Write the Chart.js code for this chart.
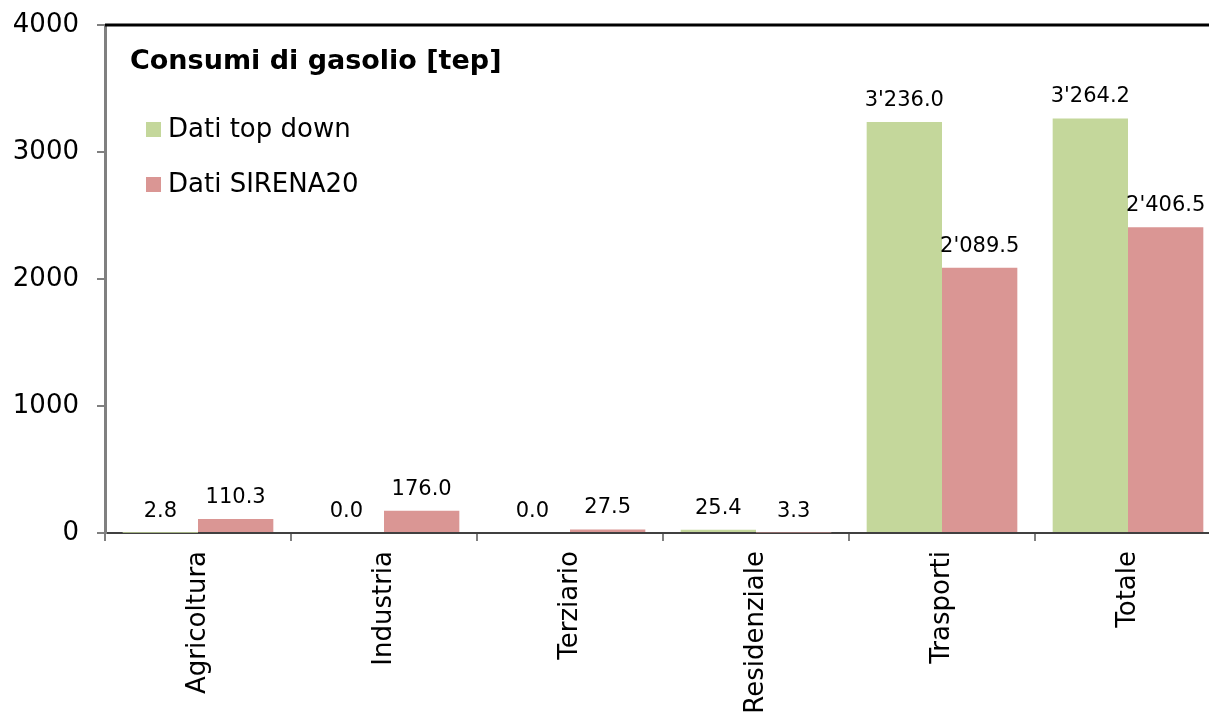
<!DOCTYPE html>
<html>
<head>
<meta charset="utf-8">
<script src="https://cdn.jsdelivr.net/npm/chart.js@4/dist/chart.umd.min.js"></script>
<style>
  html, body { margin: 0; background: #fff; overflow: hidden; }
  #wrap { width: 1221px; height: 713px; }
</style>
</head>
<body>
<div id="wrap"><canvas id="chart_gasolio"></canvas></div>
<script>
const categories = ['Agricoltura', 'Industria', 'Terziario', 'Residenziale', 'Trasporti', 'Totale'];
const topDown = [2.8, 0.0, 0.0, 25.4, 3236.0, 3264.2];
const sirena = [110.3, 176.0, 27.5, 3.3, 2089.5, 2406.5];
const yTicks = [0, 1000, 2000, 3000, 4000];
const chartTitle = 'Consumi di gasolio [tep]';

const FONT = '"DejaVu Sans", Verdana, sans-serif';

function fmt(v) {
  const parts = v.toFixed(1).split('.');
  parts[0] = parts[0].replace(/\B(?=(\d{3})+(?!\d))/g, "'");
  return parts.join('.');
}

// value labels, title, legend and top frame line
const decorations = {
  id: 'decorations',
  afterDatasetsDraw(chart) {
    const ctx = chart.ctx;
    ctx.save();
    ctx.fillStyle = '#000';
    ctx.font = '21px ' + FONT;
    ctx.textAlign = 'center';
    ctx.textBaseline = 'bottom';
    chart.data.datasets.forEach((ds, i) => {
      chart.getDatasetMeta(i).data.forEach((bar, j) => {
        ctx.fillText(fmt(ds.data[j]), bar.x, bar.y - 11);
      });
    });
    ctx.restore();
  },
  afterDraw(chart) {
    const ctx = chart.ctx;
    const area = chart.chartArea;
    ctx.save();
    ctx.strokeStyle = '#000';
    ctx.lineWidth = 3;
    ctx.beginPath();
    ctx.moveTo(area.left, area.top);
    ctx.lineTo(area.right, area.top);
    ctx.stroke();

    ctx.fillStyle = '#000';
    ctx.textAlign = 'left';
    ctx.textBaseline = 'middle';
    ctx.font = 'bold 27px ' + FONT;
    ctx.fillText(chartTitle, area.left + 25, 62);

    ctx.font = '26px ' + FONT;
    chart.data.datasets.forEach((ds, i) => {
      const y = 130 + i * 55;
      ctx.fillStyle = ds.backgroundColor;
      ctx.fillRect(area.left + 41, y - 8, 15, 15);
      ctx.fillStyle = '#000';
      ctx.fillText(ds.label, area.left + 63, y);
    });
    ctx.restore();
  }
};

new Chart(document.getElementById('chart_gasolio'), {
  type: 'bar',
  data: {
    labels: categories,
    datasets: [
      { label: 'Dati top down', data: topDown, backgroundColor: '#C4D79B' },
      { label: 'Dati SIRENA20', data: sirena, backgroundColor: '#DA9694' }
    ]
  },
  options: {
    responsive: true,
    maintainAspectRatio: false,
    animation: false,
    layout: { padding: { top: 25, right: 0, left: 0, bottom: 0 } },
    datasets: {
      bar: { categoryPercentage: 0.81, barPercentage: 1.0 }
    },
    scales: {
      x: {
        grid: {
          display: true,
          drawOnChartArea: false,
          drawTicks: true,
          tickLength: 8,
          color: '#808080',
          lineWidth: 2,
          offset: true
        },
        border: { color: '#404040', width: 2 },
        ticks: {
          color: '#000',
          font: { family: FONT, size: 26 },
          maxRotation: 90,
          minRotation: 90,
          autoSkip: false,
          padding: 10
        },
        afterFit(scale) {
          scale.height = 180;
          scale.paddingLeft = 0;
          scale.paddingRight = 0;
        }
      },
      y: {
        min: 0,
        max: 4000,
        afterBuildTicks(scale) { scale.ticks = yTicks.map(v => ({ value: v })); },
        grid: {
          display: true,
          drawOnChartArea: false,
          drawTicks: true,
          tickLength: 8,
          color: '#808080',
          lineWidth: 2
        },
        border: { color: '#808080', width: 3 },
        ticks: {
          color: '#000',
          font: { family: FONT, size: 26 },
          padding: 18,
          callback: v => String(v)
        },
        afterFit(scale) {
          scale.width = 105;
          scale.paddingTop = 0;
          scale.paddingBottom = 0;
        }
      }
    },
    plugins: {
      legend: { display: false },
      title: { display: false },
      tooltip: { enabled: false }
    }
  },
  plugins: [decorations]
});
</script>
</body>
</html>
